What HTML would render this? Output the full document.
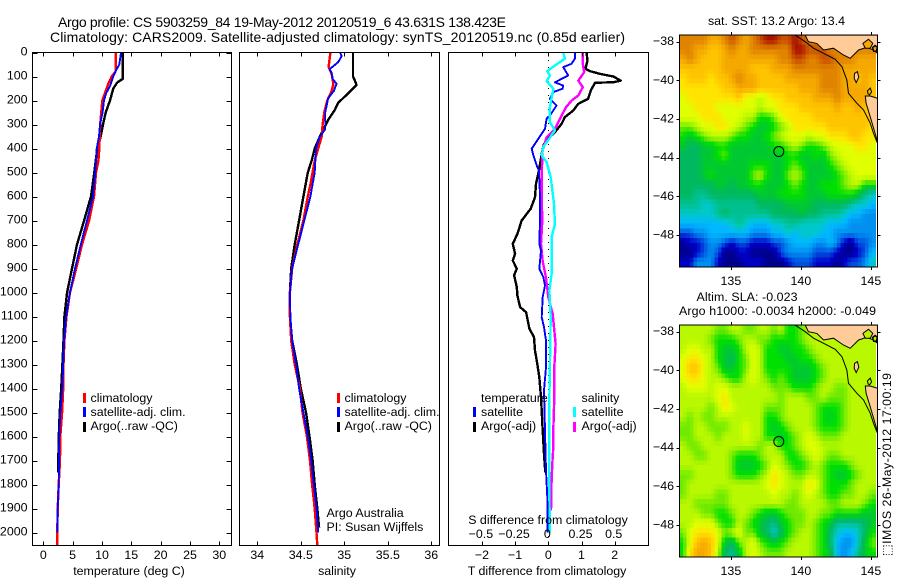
<!DOCTYPE html>
<html lang="en">
<head>
<meta charset="utf-8">
<title>Argo profile 5903259_84</title>
<style>
html,body{margin:0;padding:0;background:#fff}
svg{display:block}
text{font-family:"Liberation Sans","DejaVu Sans",sans-serif;font-size:12.4px;fill:#000}
.ttl{font-size:14px}
</style>
</head>
<body>
<svg id="fig" xmlns="http://www.w3.org/2000/svg" width="900" height="580" viewBox="0 0 900 580">
<rect width="900" height="580" fill="#fff"/>
<text class="ttl" x="58" y="27" textLength="448">Argo profile: CS 5903259_84 19-May-2012 20120519_6 43.631S 138.423E</text>
<text class="ttl" x="50" y="42" textLength="575">Climatology: CARS2009. Satellite-adjusted climatology: synTS_20120519.nc (0.85d earlier)</text>
<g id="charts"></g>
<g id="maps"></g>

<text x="129" y="575" text-anchor="middle">temperature (deg C)</text>
<text x="337" y="575" text-anchor="middle">salinity</text>
<text x="547" y="575" text-anchor="middle">T difference from climatology</text>
<text x="548" y="524" text-anchor="middle">S difference from climatology</text>

<g>
<rect x="83" y="393" width="3" height="10" fill="#f00"/>
<rect x="83" y="407" width="3" height="10" fill="#00f"/>
<rect x="83" y="422" width="3" height="10" fill="#000"/>
<text x="90.5" y="402">climatology</text>
<text x="90.5" y="416">satellite-adj. clim.</text>
<text x="90.5" y="430">Argo(..raw -QC)</text>
</g>
<g>
<rect x="337" y="393" width="3" height="10" fill="#f00"/>
<rect x="337" y="407" width="3" height="10" fill="#00f"/>
<rect x="337" y="422" width="3" height="10" fill="#000"/>
<text x="344.5" y="402">climatology</text>
<text x="344.5" y="416">satellite-adj. clim.</text>
<text x="344.5" y="430">Argo(..raw -QC)</text>
</g>
<text x="326.5" y="517">Argo Australia</text>
<text x="326.5" y="531">PI: Susan Wijffels</text>
<g id="diff-legend">
<text x="481" y="402">temperature</text>
<rect x="473" y="407" width="3" height="10" fill="#00f"/>
<text x="481" y="416">satellite</text>
<rect x="473" y="422" width="3" height="10" fill="#000"/>
<text x="481" y="430">Argo(-adj)</text>
<text x="581.5" y="402">salinity</text>
<rect x="573" y="407" width="3" height="10" fill="#0ff"/>
<text x="581.5" y="416">satellite</text>
<rect x="573" y="422" width="3" height="10" fill="#f0f"/>
<text x="581.5" y="430">Argo(-adj)</text>
</g>

<text x="776.5" y="25" text-anchor="middle">sat. SST: 13.2 Argo: 13.4</text>
<text x="696.5" y="301" textLength="101">Altim. SLA: -0.023</text>
<text x="679" y="315" textLength="197">Argo h1000: -0.0034 h2000: -0.049</text>
<text transform="translate(891,556) rotate(-90)" textLength="183">⬚IMOS 26-May-2012 17:00:19</text>
</svg>

<script>
const NS = 'http://www.w3.org/2000/svg';

/* ---------- profile data: depth (m) and values ---------- */
const depthTicks = [0,100,200,300,400,500,600,700,800,900,1000,1100,1200,1300,1400,1500,1600,1700,1800,1900,2000];
const temperatureTicks = [0,5,10,15,20,25,30];
const salinityTicks = [34,34.5,35,35.5,36];
const tDiffTicks = [-2,-1,0,1,2];
const sDiffTicks = [-0.5,-0.25,0,0.25,0.5];

const tempClimDepth = [0,50,80,100,130,170,200,300,400,450,500,600,700,800,900,1000,1100,1200,1300,1400,1500,1600,1700,1800,1900,2000,2054];
const tempClimValues = [12.34,12.34,12.3,11.65,11.08,10.5,10.06,9.7,9.55,9.4,8.98,8.64,7.8,6.6,5.6,4.55,3.95,3.6,3.45,3.4,3.2,2.9,2.85,2.62,2.45,2.39,2.39];
const tempSatDepth = [0,50,70,100,140,170,200,250,300,350,400,500,600,700,800,900,1000,1100,1200,1300,1400,1500,1600,1700,1800,1900,2000];
const tempSatValues = [13.24,12.95,12.5,11.93,11.37,10.7,10.35,10.1,9.66,9.5,9.1,8.87,8.47,7.45,6.4,5.4,4.55,3.9,3.55,3.4,3.24,2.9,2.73,2.67,2.62,2.45,2.39];
const tempArgoDepth = [0,110,125,150,200,250,300,350,400,500,600,700,800,900,1000,1100,1200,1300,1400,1500,1600,1700,1750];
const tempArgoValues = [13.53,13.53,12.6,11.93,11.37,10.63,10.18,9.78,9.2,8.7,8.13,6.95,5.75,4.9,4.05,3.6,3.45,3.25,3.05,2.8,2.65,2.55,2.58];

const salClimDepth = [0,60,90,130,160,200,250,300,350,400,450,550,600,700,800,900,1000,1100,1200,1300,1400,1500,1600,1700,1800,1900,2000,2054];
const salClimValues = [34.84,34.82,34.855,34.875,34.855,34.805,34.77,34.75,34.74,34.7,34.66,34.61,34.58,34.53,34.46,34.4,34.375,34.375,34.39,34.43,34.49,34.52,34.57,34.606,34.63,34.66,34.68,34.69];
const salSatDepth = [0,15,40,70,85,110,130,160,190,250,320,350,400,500,600,700,800,900,1000,1100,1200,1300,1400,1500,1600,1700,1800,1900,2000];
const salSatValues = [34.95,34.97,34.93,34.83,34.855,34.865,34.91,34.88,34.815,34.78,34.78,34.72,34.675,34.66,34.61,34.54,34.47,34.4,34.375,34.38,34.4,34.445,34.48,34.53,34.58,34.62,34.65,34.68,34.7];
const salArgoDepth = [0,100,115,135,150,175,210,240,280,350,400,450,500,600,700,800,900,1000,1100,1200,1300,1400,1500,1600,1700,1800,1900,1980];
const salArgoValues = [35.1,35.1,35.12,35.14,35.1,35.03,34.93,34.89,34.816,34.72,34.66,34.625,34.58,34.53,34.48,34.43,34.39,34.375,34.375,34.4,34.455,34.5,34.56,34.6,34.636,34.66,34.69,34.71];

const tDiffArgoDepth = [0,33,68,78,89,100,117,124,126,158,193,214,242,269,297,332,360,381,422,485,547,603,651,700,756,797,839,867,901,928,978,1013,1061,1082,1151,1186,1242,1297,1353,1436,1575,1672,1749];
const tDiffArgoValues = [1.15,1.18,1.12,1.26,1.56,1.96,2.18,1.96,1.41,1.28,1.2,0.9,0.75,0.5,0.4,0.2,0,-0.13,-0.2,-0.27,-0.37,-0.4,-0.53,-0.8,-0.93,-1.07,-1,-1.07,-0.95,-1.03,-0.95,-0.93,-0.85,-0.67,-0.57,-0.43,-0.4,-0.33,-0.27,-0.22,-0.17,-0.13,-0.09];
const tDiffSatDepth = [0,26,47,61,96,124,138,151,165,193,221,262,276,318,360,401,429,471,492,600,700,797,825,901,936,971,1019,1103,1144,1200,1311,1408,1575,1742,1853,2000];
const tDiffSatValues = [0.8,0.8,0.7,0.45,0.6,0.2,0.45,0.43,0.15,0.05,0.25,0.05,-0.05,-0.1,-0.3,-0.5,-0.45,-0.35,-0.28,-0.25,-0.25,-0.27,-0.22,-0.27,-0.15,-0.1,-0.17,-0.2,-0.13,-0.07,-0.07,-0.13,-0.1,-0.07,-0.03,-0.03];
const sDiffArgoDepth = [0,47,82,117,144,179,200,228,276,318,353,408,506,603,700,797,867,936,1019,1089,1158,1214,1311,1436,1575,1644,1714,1783,1908];
const sDiffArgoValues = [0.26,0.26,0.27,0.226,0.26,0.226,0.176,0.133,0.088,0.05,-0.013,-0.043,-0.05,-0.05,-0.045,-0.055,-0.043,-0.018,0,0.033,0.045,0.055,0.045,0.045,0.038,0.038,0.03,0.025,0.02];
const sDiffSatDepth = [0,26,54,78,96,119,151,228,290,325,394,429,457,519,631,714,769,922,992,1103,1311,1436,1644,1853,2000];
const sDiffSatValues = [0.113,0.125,0.05,-0.008,0.012,-0.012,0.038,0.012,0.012,0.05,-0.038,-0.05,-0.012,0.018,0.043,0.05,0.025,0.025,0.008,0.018,0.012,0.008,0.008,0.008,0.012];

/* ---------- map data: 0.5-degree colour levels ---------- */
const mapLonTicks = [135,140,145];
const mapLatTicks = [-38,-40,-42,-44,-46,-48];
const sstGrid = [
[16,16,16,16,15,15,16,17,16,15,16,17,18,18,17,17,18,17,16,16,16,16,16,16,16,16,16,16],
[16,16,15,15,14,14,15,16,15,15,16,16,16,16,16,16,18,18,17,17,17,16,16,16,16,16,16,16],
[15,16,15,14,14,14,15,15,15,15,15,15,15,15,16,16,17,17,16,16,17,17,16,16,16,15,15,15],
[14,14,14,14,14,14,15,15,15,15,14,14,14,15,15,15,16,16,16,16,16,16,16,15,15,15,15,15],
[13,14,14,14,13,14,14,15,16,15,15,14,14,14,14,15,15,15,15,15,16,16,16,15,15,14,15,14],
[13,13,13,13,13,13,14,14,15,15,15,14,14,14,14,14,14,15,15,15,16,16,16,15,15,15,15,14],
[12,13,13,13,13,13,13,13,14,12,12,11,12,13,13,14,14,14,14,15,15,15,16,15,15,15,15,14],
[12,12,13,13,13,12,12,12,12,12,12,11,12,12,13,13,13,14,14,14,14,14,15,14,14,15,14,14],
[12,12,12,13,13,13,12,12,12,11,11,9,9,10,12,13,13,13,13,14,14,14,14,14,14,14,14,14],
[10,10,11,12,12,13,13,12,11,10,9,8,8,9,10,11,13,13,13,13,13,14,14,14,14,14,14,13],
[9,8,9,10,11,11,11,10,9,9,8,8,9,10,11,12,12,12,11,12,12,13,13,13,14,14,13,13],
[8,7,7,8,8,9,9,8,8,8,8,8,8,9,9,10,11,10,9,9,10,11,12,12,12,13,13,12],
[7,7,7,8,8,9,10,8,8,8,8,8,8,8,8,9,9,8,8,9,8,10,11,12,12,12,12,12],
[7,7,7,8,8,8,8,8,8,8,9,9,9,8,8,9,10,9,8,8,8,9,10,11,12,12,12,12],
[7,7,7,8,9,8,8,8,8,8,10,11,9,8,8,10,11,10,8,8,8,8,9,10,11,12,12,12],
[7,7,7,7,7,8,8,7,8,8,9,9,8,8,8,9,10,9,8,8,9,9,9,10,11,11,9,9],
[7,7,6,6,7,7,7,7,7,7,7,8,8,8,9,9,9,9,8,8,8,9,9,9,9,8,6,5],
[6,6,6,5,5,6,6,6,6,6,6,7,7,7,7,8,8,8,8,7,7,7,7,7,6,5,5,4],
[5,5,5,5,5,6,7,6,6,6,6,6,6,7,7,7,7,8,7,7,6,6,6,5,4,4,3,3],
[4,4,4,4,4,4,4,5,6,5,4,4,4,5,5,6,6,5,5,5,5,4,4,4,3,3,3,3],
[2,2,3,3,4,4,4,4,4,4,3,3,3,4,4,5,4,5,5,5,4,4,3,3,3,3,3,3],
[0,1,1,2,3,3,2,1,2,2,1,1,1,2,2,3,4,4,4,3,3,4,3,1,0,2,2,3],
[0,0,1,2,3,2,0,0,1,1,0,0,0,0,2,3,3,3,3,2,2,2,1,0,0,1,2,4],
[1,1,3,3,3,1,0,0,0,1,1,1,0,0,0,1,2,2,2,1,1,1,0,1,2,2,3,5]
];
const slaGrid = [
[11,11,11,11,11,10,10,11,11,10,10,11,11,10,11,9,9,10,11,11,11,11,11,11,11,11,11,11],
[11,11,11,11,10,9,9,9,10,11,11,10,10,9,9,9,9,10,11,11,11,11,11,11,11,11,11,11],
[11,12,12,11,11,9,8,8,9,11,12,11,9,9,8,8,9,9,10,11,11,11,11,11,11,11,11,11],
[12,13,13,12,11,9,8,7,9,10,12,11,9,9,9,8,8,9,9,10,11,11,11,11,11,11,11,11],
[12,14,14,12,11,10,8,8,9,10,12,11,9,9,9,9,8,8,8,9,10,11,11,11,11,11,11,11],
[12,13,13,12,11,11,10,9,9,11,12,11,10,9,10,9,8,8,8,9,10,11,11,11,11,11,11,11],
[11,12,12,12,11,12,12,11,11,11,11,11,11,10,10,10,9,9,9,10,11,11,10,10,11,11,11,11],
[11,11,11,11,11,12,13,11,11,11,11,11,11,11,10,11,11,11,10,10,11,10,10,10,11,11,11,11],
[11,11,11,11,10,11,13,12,11,11,11,11,10,10,10,11,11,11,11,10,9,9,9,10,11,11,11,11],
[11,10,11,10,10,11,11,11,11,11,11,11,9,9,10,11,11,11,11,10,9,8,9,10,11,11,11,11],
[10,10,11,11,10,10,10,11,11,12,11,11,9,8,9,10,11,11,11,10,9,9,9,10,11,11,11,11],
[10,10,11,11,11,10,11,11,11,12,11,11,9,9,8,9,10,11,12,11,10,10,10,11,11,11,11,11],
[11,10,10,11,11,11,11,11,11,11,11,10,11,11,9,9,10,11,12,12,11,11,11,11,11,11,11,11],
[11,11,10,10,11,11,11,10,9,9,9,10,11,11,11,9,9,10,11,12,11,10,10,11,11,11,11,11],
[11,11,11,11,11,11,11,10,8,8,8,9,10,12,11,10,9,9,10,11,10,9,9,9,10,11,11,11],
[10,10,11,11,11,11,11,10,9,9,9,10,11,13,12,11,10,10,11,11,10,9,8,8,9,10,11,11],
[10,11,11,11,11,11,11,11,11,11,11,11,12,13,12,11,11,11,13,12,10,9,9,9,10,11,11,11],
[10,11,11,11,11,10,10,11,11,11,11,11,11,12,11,11,10,11,12,11,10,9,9,10,10,11,11,10],
[11,11,10,10,10,10,10,11,11,11,11,11,11,11,11,10,10,11,11,11,11,10,10,11,11,11,10,9],
[11,11,11,10,10,9,9,10,11,11,10,9,8,8,9,10,10,10,11,11,10,10,9,9,9,9,8,8],
[11,11,12,12,12,10,9,9,11,10,9,8,7,6,8,9,10,10,11,10,9,8,6,6,6,6,7,8],
[10,12,13,13,13,12,10,11,12,10,10,8,7,5,7,9,10,11,11,10,9,7,5,4,4,5,7,9],
[9,12,14,15,14,12,8,7,10,11,12,10,9,8,9,10,11,11,11,10,9,7,4,3,3,5,8,10],
[9,13,15,15,14,11,7,6,8,11,12,11,10,10,10,11,11,11,11,10,9,8,4,3,4,6,8,9]
];
const levelColors = ['#00008c','#0000c8','#0050e0','#0090f0','#00b8ff','#00c8c8','#00c090','#00b860','#00c830','#00e000','#70ea00','#b8f800','#e0ff00','#ffe400','#ffc400','#f4a800','#e08400','#c85000','#a81000'];

const landLons = [140.31,140.54,141.14,141.62,142.33,143.04,143.52,144.12,144.71,145.19,145.47,145.47];
const landLats = [-37.66,-38,-38.09,-38.43,-38.34,-38.69,-38.86,-38.43,-38.29,-38.43,-38.6,-37.66];
const tasmaniaLons = [144.6,144.95,145.47,145.47,145.23,144.95,144.66];
const tasmaniaLats = [-40.81,-40.81,-40.93,-43.17,-42.57,-41.88,-41.19];
const kingIslandLons = [143.83,144.04,144.14,143.95,143.81];
const kingIslandLats = [-39.64,-39.55,-39.84,-40.12,-39.9];
const flindersLons = [144.75,144.95,145.05,144.9,144.8];
const flindersLats = [-40.55,-40.4,-40.6,-40.75,-40.7];
const bayLons = [144.43,144.83,145.14,144.95,144.6];
const bayLats = [-38.09,-37.88,-38.09,-38.34,-38.34];
const westernPortLons = [145.12,145.3,145.47,145.38,145.2];
const westernPortLats = [-38.3,-38.2,-38.3,-38.5,-38.5];
const shelfLons = [139.59,140.31,140.9,141.62,142.45,142.93,143.28,143.4,144,144.47,144.95,145.19,145.47];
const shelfLats = [-37.66,-38,-38.34,-38.6,-38.91,-39.29,-39.98,-40.67,-41.19,-41.53,-42.22,-42.74,-43.26];
const profileLon = [138.423];
const profileLat = [-43.631];

/* ---------- helpers ---------- */
function add(parent, tag, attrs) {
  const el = document.createElementNS(NS, tag);
  for (const k in attrs) el.setAttribute(k, attrs[k]);
  parent.appendChild(el);
  return el;
}
function minus(v) { return String(v).replace('-', '\u2212'); }
function hexRgb(h) { return [parseInt(h.slice(1,3),16), parseInt(h.slice(3,5),16), parseInt(h.slice(5,7),16)]; }
function levelColor(v) {
  const i = Math.max(0, Math.min(levelColors.length - 2, Math.floor(v)));
  const f = Math.max(0, Math.min(1, v - i));
  const a = hexRgb(levelColors[i]), b = hexRgb(levelColors[i + 1]);
  return 'rgb(' + a.map((c, k) => Math.round(c + (b[k] - c) * f)).join(',') + ')';
}

/* ---------- axis functions ---------- */
const depthY = d => 52.5 + 0.24 * d;
const tempX = v => 43.3 + 5.867 * v;
const salX = v => 257.3 + 87 * (v - 34);
const tDiffX = v => 548.3 + 33.2 * v;
const sDiffX = v => 548.3 + 132.8 * v;

const charts = document.getElementById('charts');

function frame(parent, x0, x1, y0, y1, name) {
  const r = add(parent, 'rect', {x: x0, y: y0, width: x1 - x0, height: y1 - y0, fill: 'none', stroke: '#000', 'stroke-width': 1, 'shape-rendering': 'crispEdges'});
  
  
}
function xTicksInside(parent, ticks, scale, x0y, x1y, labelY, labelFmt, name) {
  ticks.forEach(v => {
    const x = Math.round(scale(v)) + 0.5;
    const a = add(parent, 'line', {x1: x, x2: x, y1: x0y, y2: x0y + 4, stroke: '#000', 'shape-rendering': 'crispEdges'});
    
    
    const b = add(parent, 'line', {x1: x, x2: x, y1: x1y, y2: x1y - 4, stroke: '#000', 'shape-rendering': 'crispEdges'});
    
    
    const t = add(parent, 'text', {x: scale(v), y: labelY, 'text-anchor': 'middle'});
    t.textContent = labelFmt(v);
    
    
  });
}
function profileLine(parent, depths, values, scale, color, width, name) {
  const pts = depths.map((d, i) => scale(values[i]).toFixed(1) + ',' + depthY(d).toFixed(1)).join(' ');
  const l = add(parent, 'polyline', {points: pts, fill: 'none', stroke: color, 'stroke-width': width, 'stroke-linejoin': 'round', 'shape-rendering': 'crispEdges'});
  
  
}

/* temperature panel */
const g1 = add(charts, 'g', {});


profileLine(g1, tempArgoDepth, tempArgoValues, tempX, '#000', 2.4, 'temperature-argo-line');
profileLine(g1, tempClimDepth, tempClimValues, tempX, '#f00', 2.4, 'temperature-climatology-line');
profileLine(g1, tempSatDepth, tempSatValues, tempX, '#00f', 1.9, 'temperature-satellite-line');
frame(g1, 32.5, 231.5, 52.5, 545.5, 'temperature-frame');
xTicksInside(g1, temperatureTicks, tempX, 52.5, 545.5, 559, String, 'temperature-axis');
depthTicks.forEach(d => {
  const y = Math.round(depthY(d)) + 0.5;
  const a = add(g1, 'line', {x1: 32.5, x2: 37.5, y1: y, y2: y, stroke: '#000', 'shape-rendering': 'crispEdges'});
  
  
  const b = add(g1, 'line', {x1: 231.5, x2: 226.5, y1: y, y2: y, stroke: '#000', 'shape-rendering': 'crispEdges'});
  
  
  const t = add(g1, 'text', {x: 27.5, y: depthY(d) + 3.2, 'text-anchor': 'end'});
  t.textContent = String(d);
  
  
});

/* salinity panel */
const g2 = add(charts, 'g', {});


profileLine(g2, salArgoDepth, salArgoValues, salX, '#000', 2.4, 'salinity-argo-line');
profileLine(g2, salClimDepth, salClimValues, salX, '#f00', 2.4, 'salinity-climatology-line');
profileLine(g2, salSatDepth, salSatValues, salX, '#00f', 1.9, 'salinity-satellite-line');
frame(g2, 239.5, 439.5, 52.5, 545.5, 'salinity-frame');
xTicksInside(g2, salinityTicks, salX, 52.5, 545.5, 559, String, 'salinity-axis');

/* difference panel */
const g3 = add(charts, 'g', {});


const zero = add(g3, 'line', {x1: Math.round(tDiffX(0)) + 0.5, x2: Math.round(tDiffX(0)) + 0.5, y1: 53, y2: 545, stroke: '#000', 'stroke-dasharray': '1 6', 'shape-rendering': 'crispEdges'});


profileLine(g3, tDiffArgoDepth, tDiffArgoValues, tDiffX, '#000', 2.4, 't-difference-argo-line');
profileLine(g3, sDiffArgoDepth, sDiffArgoValues, sDiffX, '#f0f', 2.4, 's-difference-argo-line');
profileLine(g3, tDiffSatDepth, tDiffSatValues, tDiffX, '#00f', 1.9, 't-difference-satellite-line');
profileLine(g3, sDiffSatDepth, sDiffSatValues, sDiffX, '#0ff', 2.4, 's-difference-satellite-line');
frame(g3, 448.5, 648.5, 52.5, 545.5, 'difference-frame');
xTicksInside(g3, tDiffTicks, tDiffX, 52.5, 545.5, 559, minus, 't-difference-axis');
sDiffTicks.forEach(v => {
  const t = add(g3, 'text', {x: sDiffX(v) - 1, y: 538, 'text-anchor': 'middle'});
  t.textContent = minus(v);
  
  
});

/* ---------- maps ---------- */
const maps = document.getElementById('maps');
const MAP_LEFT = 679.5, MAP_RIGHT = 877.5, MAP_LON0 = 131.33, PX_PER_LON = 14;
const MAP_H = 232, LAT_TOP = -37.655, PX_PER_LAT = 19.33;
const lonX = lon => MAP_LEFT + (lon - MAP_LON0) * PX_PER_LON;

/* value of a 0.5-degree grid sampled on the 0.25-degree display cells */
function gridSample(grid, rf, cf) {
  const rows = grid.length, cols = grid[0].length;
  const r0 = Math.max(0, Math.floor(rf)), c0 = Math.max(0, Math.floor(cf));
  const r1 = Math.min(rows - 1, r0 + 1), c1 = Math.min(cols - 1, c0 + 1);
  const fr = Math.max(0, rf - r0), fc = Math.max(0, cf - c0);
  return (grid[r0][c0] * (1 - fc) + grid[r0][c1] * fc) * (1 - fr) + (grid[r1][c0] * (1 - fc) + grid[r1][c1] * fc) * fr;
}

function drawMap(top, grid, bayFill, name, clipId) {
  const latY = lat => top + (LAT_TOP - lat) * PX_PER_LAT;
  const toPts = (lons, lats) => lons.map((lo, i) => lonX(lo).toFixed(1) + ',' + latY(lats[i]).toFixed(1)).join(' ');
  const g = add(maps, 'g', {});
  
  
  const clip = add(g, 'clipPath', {id: clipId});
  add(clip, 'rect', {x: MAP_LEFT, y: top, width: MAP_RIGHT - MAP_LEFT, height: MAP_H});
  const body = add(g, 'g', {'clip-path': 'url(#' + clipId + ')'});
  const rows = grid.length * 2, cols = grid[0].length * 2;
  for (let r = 0; r < rows; r++) {
    for (let c = 0; c < cols; c++) {
      const x0 = lonX(MAP_LON0 + c * 0.25), x1 = lonX(MAP_LON0 + (c + 1) * 0.25);
      const y0 = latY(LAT_TOP - r * 0.25), y1 = latY(LAT_TOP - (r + 1) * 0.25);
      const v = gridSample(grid, (r + 0.5) / 2 - 0.5, (c + 0.5) / 2 - 0.5);
      const cell = add(body, 'rect', {x: x0.toFixed(2), y: y0.toFixed(2), width: (x1 - x0 + 0.3).toFixed(2), height: (y1 - y0 + 0.3).toFixed(2), fill: levelColor(v), 'shape-rendering': 'crispEdges'});
      
      
    }
  }
  const land1 = add(body, 'polygon', {points: toPts(landLons, landLats), fill: '#ffcc99', stroke: '#000', 'stroke-width': 1});
  
  
  const land2 = add(body, 'polygon', {points: toPts(tasmaniaLons, tasmaniaLats), fill: '#ffcc99', stroke: '#000', 'stroke-width': 1});
  
  
  const isle = add(body, 'polygon', {points: toPts(kingIslandLons, kingIslandLats), fill: '#ffcc99', stroke: '#000', 'stroke-width': 1});
  
  
  const isle2 = add(body, 'polygon', {points: toPts(flindersLons, flindersLats), fill: 'none', stroke: '#000', 'stroke-width': 1});
  
  
  const bay = add(body, 'polygon', {points: toPts(bayLons, bayLats), fill: bayFill, stroke: '#000', 'stroke-width': 1});
  
  
  const bay2 = add(body, 'polygon', {points: toPts(westernPortLons, westernPortLats), fill: bayFill, stroke: '#000', 'stroke-width': 1.5});
  
  
  const shelf = add(body, 'polyline', {points: toPts(shelfLons, shelfLats), fill: 'none', stroke: '#000', 'stroke-width': 1});
  
  
  const marker = add(g, 'circle', {cx: lonX(profileLon[0]), cy: latY(profileLat[0]) + 1, r: 5, fill: 'none', stroke: '#000', 'stroke-width': 1});
  
  
  const bottom = top + MAP_H;
  const f = add(g, 'rect', {x: MAP_LEFT, y: top, width: MAP_RIGHT - MAP_LEFT, height: MAP_H, fill: 'none', stroke: '#000', 'shape-rendering': 'crispEdges'});
  
  
  mapLonTicks.forEach(lon => {
    const x = Math.round(lonX(lon)) + 0.5;
    const a = add(g, 'line', {x1: x, x2: x, y1: top, y2: top - 3, stroke: '#000', 'shape-rendering': 'crispEdges'});
    
    
    const b = add(g, 'line', {x1: x, x2: x, y1: bottom, y2: bottom + 3, stroke: '#000', 'shape-rendering': 'crispEdges'});
    
    
    const t = add(g, 'text', {x: lonX(lon), y: bottom + 18, 'text-anchor': 'middle'});
    t.textContent = String(lon);
    
    
  });
  mapLatTicks.forEach(lat => {
    const y = Math.round(latY(lat)) + 0.5;
    const a = add(g, 'line', {x1: MAP_LEFT, x2: MAP_LEFT - 3, y1: y, y2: y, stroke: '#000', 'shape-rendering': 'crispEdges'});
    
    
    const b = add(g, 'line', {x1: MAP_RIGHT, x2: MAP_RIGHT + 3, y1: y, y2: y, stroke: '#000', 'shape-rendering': 'crispEdges'});
    
    
    const t = add(g, 'text', {x: 674, y: latY(lat) + 3.5, 'text-anchor': 'end'});
    t.textContent = minus(lat);
    
    
  });
}
drawMap(35, sstGrid, '#f8a800', 'sst-map', 'clip-sst');
drawMap(325, slaGrid, '#c0f000', 'sla-map', 'clip-sla');
</script>
</body>
</html>
